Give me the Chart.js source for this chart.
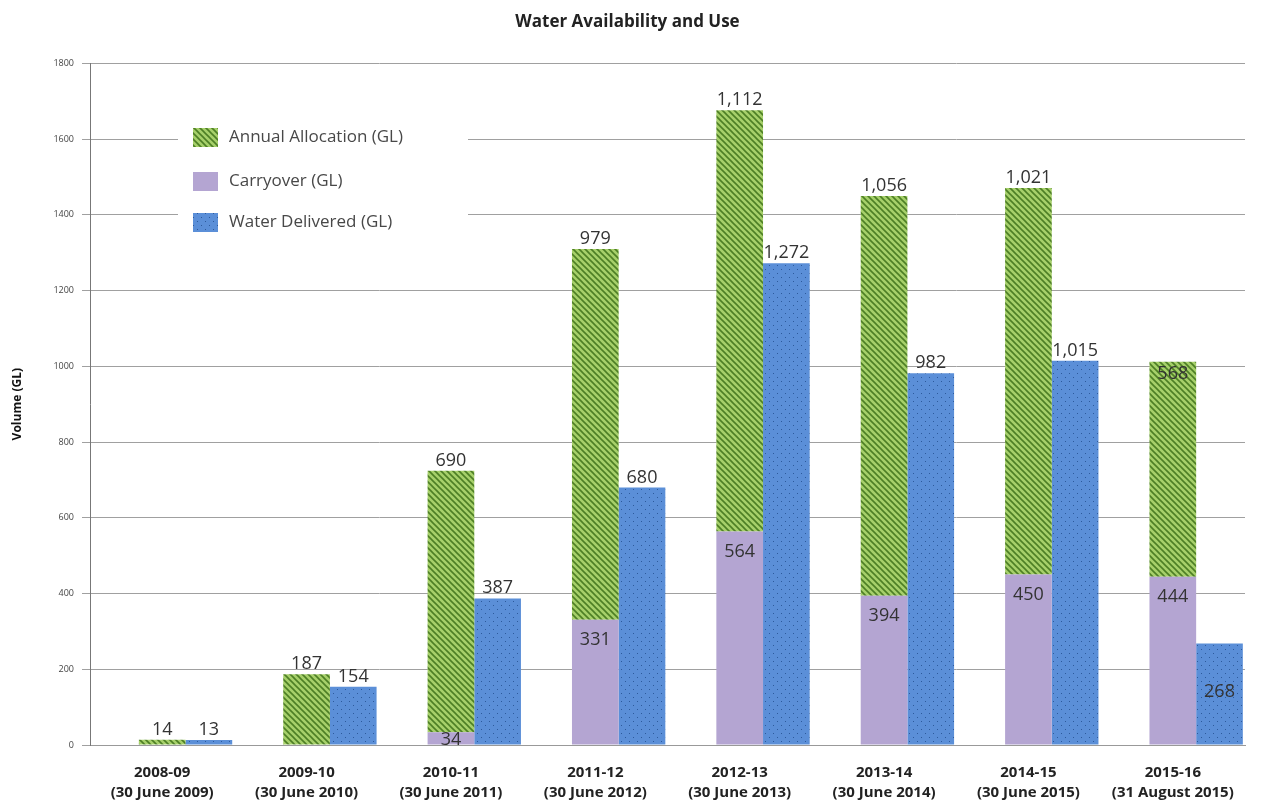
<!DOCTYPE html>
<html>
<head>
<meta charset="utf-8">
<script src="https://cdn.jsdelivr.net/npm/chart.js@4.4.0/dist/chart.umd.min.js"></script>
<style>
  html, body { margin: 0; padding: 0; background: #fff; }
  #wrap { width: 1261px; height: 801px; position: relative; }
</style>
</head>
<body>
<div id="wrap"><canvas id="grafico"></canvas></div>
<script>
// dados
const anos = ['2008-09', '2009-10', '2010-11', '2011-12', '2012-13', '2013-14', '2014-15', '2015-16'];
const datas = ['(30 June 2009)', '(30 June 2010)', '(30 June 2011)', '(30 June 2012)', '(30 June 2013)', '(30 June 2014)', '(30 June 2015)', '(31 August 2015)'];
const carryover = [0, 0, 34, 331, 564, 394, 450, 444];
const alocacao = [14, 187, 690, 979, 1112, 1056, 1021, 568];
const entregue = [13, 154, 387, 680, 1272, 982, 1015, 268];
const yTicks = [0, 200, 400, 600, 800, 1000, 1200, 1400, 1600, 1800];

// rótulos que ficam dentro da barra (indice do dataset -> categorias)
const rotulosDentro = { 2: [7], 3: [7] };

// padrões de preenchimento
function padraoListrado() {
    const c = document.createElement('canvas');
    c.width = 6; c.height = 6;
    const g = c.getContext('2d');
    g.fillStyle = '#a6d06a';
    g.fillRect(0, 0, 6, 6);
    g.strokeStyle = '#4d7f25';
    g.lineWidth = 1.6;
    g.beginPath();
    g.moveTo(-1, -1); g.lineTo(7, 7);
    g.moveTo(-4, 2); g.lineTo(4, 10);
    g.moveTo(2, -4); g.lineTo(10, 4);
    g.stroke();
    return g.createPattern(c, 'repeat');
}

function padraoPontos() {
    const c = document.createElement('canvas');
    c.width = 8; c.height = 8;
    const g = c.getContext('2d');
    g.fillStyle = '#5b8fd8';
    g.fillRect(0, 0, 8, 8);
    g.fillStyle = '#2d5a9c';
    g.fillRect(1, 1, 1, 1);
    g.fillRect(5, 5, 1, 1);
    return g.createPattern(c, 'repeat');
}

const corVerde = padraoListrado();
const corAzul = padraoPontos();
const corLilas = '#b4a5d2';

const fmt = v => v.toLocaleString('en-US');

// rótulos de valor nas barras
const pluginRotulos = {
    id: 'rotulos',
    afterDatasetsDraw(chart) {
        const ctx = chart.ctx;
        ctx.save();
        ctx.font = '18px "Open Sans", sans-serif';
        ctx.fillStyle = '#333';
        ctx.textAlign = 'center';
        chart.data.datasets.forEach((ds, i) => {
            if (!ds.rotulo) return;
            const meta = chart.getDatasetMeta(i);
            meta.data.forEach((bar, j) => {
                const v = ds.data[j];
                if (!v) return;
                const excecao = (rotulosDentro[i] || []).includes(j);
                let y;
                if (ds.rotulo === 'dentro') {
                    ctx.textBaseline = 'middle';
                    y = (bar.base - bar.y) < 30 ? bar.y + 8 : bar.y + 20;
                } else if (excecao) {
                    ctx.textBaseline = 'middle';
                    y = i === 2 ? bar.y + 12 : bar.y + 48;
                } else {
                    ctx.textBaseline = 'alphabetic';
                    y = bar.y - 5;
                }
                ctx.fillText(fmt(v), bar.x, y);
            });
        });
        ctx.restore();
    }
};

// legenda dentro da área do gráfico
const pluginLegenda = {
    id: 'legendaInterna',
    afterDatasetsDraw(chart) {
        const ctx = chart.ctx;
        const itens = [
            { txt: 'Annual Allocation (GL)', cor: corVerde, y: 137 },
            { txt: 'Carryover (GL)', cor: corLilas, y: 181 },
            { txt: 'Water Delivered (GL)', cor: corAzul, y: 222 }
        ];
        ctx.save();
        ctx.fillStyle = '#fff';
        ctx.fillRect(178, 115, 290, 125);
        ctx.font = '17px "Open Sans", sans-serif';
        ctx.textBaseline = 'middle';
        ctx.textAlign = 'left';
        itens.forEach(it => {
            ctx.fillStyle = it.cor;
            ctx.fillRect(193, it.y - 9, 25, 19);
            ctx.fillStyle = '#484848';
            ctx.fillText(it.txt, 229, it.y);
        });
        ctx.restore();
    }
};

new Chart(document.getElementById('grafico'), {
    type: 'bar',
    data: {
        labels: anos.map((a, i) => [a, datas[i]]),
        datasets: [
            { label: '', data: anos.map(() => null), stack: 'vazio', backgroundColor: 'rgba(0,0,0,0)' },
            { label: 'Carryover (GL)', data: carryover, stack: 'disp', backgroundColor: corLilas, rotulo: 'dentro' },
            { label: 'Annual Allocation (GL)', data: alocacao, stack: 'disp', backgroundColor: corVerde, rotulo: 'acima' },
            { label: 'Water Delivered (GL)', data: entregue, stack: 'uso', backgroundColor: corAzul, rotulo: 'acima' }
        ]
    },
    options: {
        responsive: true,
        maintainAspectRatio: false,
        animation: false,
        categoryPercentage: 0.97,
        barPercentage: 1.0,
        layout: { padding: { left: 10, right: 16, top: 0, bottom: 0 } },
        plugins: {
            legend: { display: false },
            tooltip: { enabled: false },
            title: {
                display: true,
                text: 'Water Availability and Use',
                color: '#222',
                font: { family: '"Open Sans", sans-serif', size: 17, weight: 'bold' },
                padding: { top: 12, bottom: 31 }
            }
        },
        scales: {
            x: {
                stacked: true,
                grid: { display: false },
                border: { color: '#999' },
                ticks: {
                    color: '#222',
                    padding: 10,
                    maxRotation: 0,
                    autoSkip: false,
                    font: { family: '"Open Sans", sans-serif', size: 15, weight: 'bold', lineHeight: 1.3 }
                },
                afterFit: s => { s.height = 56; }
            },
            y: {
                stacked: true,
                min: 0,
                max: 1800,
                afterBuildTicks: s => { s.ticks = yTicks.map(v => ({ value: v })); },
                grid: { color: '#a0a0a0', lineWidth: 1, tickLength: 8 },
                border: { color: '#777' },
                ticks: {
                    color: '#444',
                    padding: 8,
                    callback: v => String(v),
                    font: { family: '"Open Sans", sans-serif', size: 9 }
                },
                title: {
                    display: true,
                    text: 'Volume (GL)',
                    color: '#111',
                    font: { family: '"Open Sans", sans-serif', size: 12, weight: 'bold' },
                    padding: { top: 0, bottom: 6 }
                },
                afterFit: s => { s.width = 80; }
            }
        }
    },
    plugins: [pluginLegenda, pluginRotulos]
});
</script>
</body>
</html>
